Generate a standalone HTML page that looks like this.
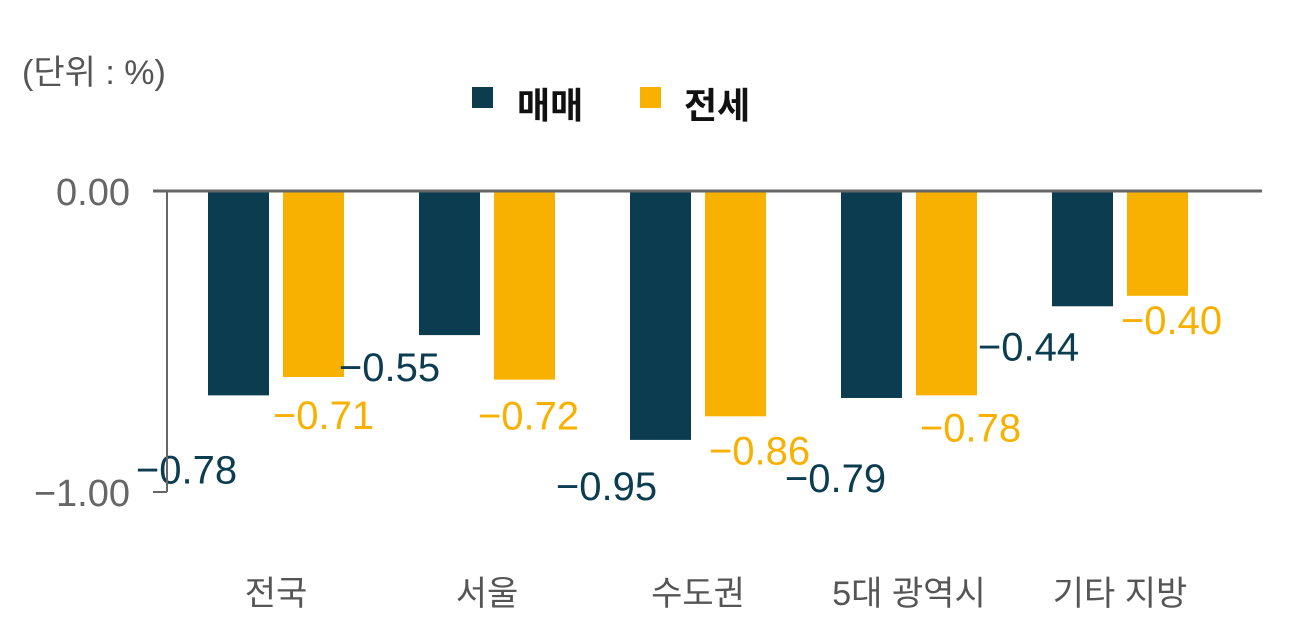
<!DOCTYPE html>
<html><head><meta charset="utf-8">
<style>
body{margin:0;background:#fff;width:1316px;height:637px;overflow:hidden;font-family:"Liberation Sans","Noto Sans CJK KR",sans-serif}
svg text{font-family:"Liberation Sans","Noto Sans CJK KR",sans-serif}
</style></head>
<body>
<svg id="chart" width="1316" height="637" xmlns="http://www.w3.org/2000/svg">
<text x="22" y="84" font-size="34" fill="#555">(단위 : %)</text>
<g>
<rect x="472" y="87" width="21" height="21" fill="#0b3c50"/>
<text x="517" y="118" font-size="36" font-weight="bold" fill="#111">매매</text>
<rect x="640" y="87" width="21" height="21" fill="#f8b100"/>
<text x="684" y="118" font-size="36" font-weight="bold" fill="#111">전세</text>
</g>
<g id="plot"></g>
</svg>
<script>
const categories = ["전국","서울","수도권","5대 광역시","기타 지방"];
const saleValues = [-0.78,-0.55,-0.95,-0.79,-0.44];
const jeonseValues = [-0.71,-0.72,-0.86,-0.78,-0.40];
const tickValues = [0,-1];
const tickLabels = ["0.00","−1.00"];

const NS="http://www.w3.org/2000/svg";
const plot=document.getElementById('plot');
const zeroY=191, barScale=262, tickScale=301;
const yBar=v=>zeroY - v*barScale;
const yTick=v=>zeroY - v*tickScale;
const groupX=i=>276+i*211;
const bw=61, gap=14;
// label offsets (layout only)
const saleLbl=[[-52,88],[-60,46],[-54,60],[-36,94],[-54,54]];
const jeonLbl=[[-30,52],[-36,50],[-16,48],[-16,46],[-26,38]];
function mk(tag,attrs){const e=document.createElementNS(NS,tag);for(const k in attrs)e.setAttribute(k,attrs[k]);plot.appendChild(e);return e;}
function fmt(v){return "−"+Math.abs(v).toFixed(2);}
categories.forEach((c,i)=>{
  const cx=groupX(i);
  const y1=yBar(saleValues[i]);
  const r1=mk('rect',{x:cx-gap/2-bw,y:zeroY,width:bw,height:y1-zeroY,fill:'#0b3c50'});
  
  
  const y2=yBar(jeonseValues[i]);
  const r2=mk('rect',{x:cx+gap/2,y:zeroY,width:bw,height:y2-zeroY,fill:'#f8b100'});
  
  
  const t1=mk('text',{x:cx-gap/2-bw/2+saleLbl[i][0],y:y1+saleLbl[i][1],'font-size':40,fill:'#0b3c50','text-anchor':'middle'});
  t1.textContent=fmt(saleValues[i]);
  
  
  const t2=mk('text',{x:cx+gap/2+bw/2+jeonLbl[i][0]+40,y:y2+jeonLbl[i][1],'font-size':40,fill:'#f8b100','text-anchor':'middle'});
  t2.textContent=fmt(jeonseValues[i]);
  
  
  const t3=mk('text',{x:cx,y:605,'font-size':34,fill:'#555','text-anchor':'middle'});
  t3.textContent=c;
  
  
});
const ax=mk('line',{x1:153,y1:zeroY,x2:1262,y2:zeroY,stroke:'#666','stroke-width':3});


const yax=mk('line',{x1:167,y1:zeroY,x2:167,y2:yTick(-1),stroke:'#666','stroke-width':2});


tickValues.forEach((v,i)=>{
  const tk=mk('line',{x1:153,y1:yTick(v),x2:167,y2:yTick(v),stroke:'#666','stroke-width':2});
  
  
  const tl=mk('text',{x:130,y:yTick(v)+14,'font-size':38,fill:'#666','text-anchor':'end'});
  tl.textContent=tickLabels[i];
  
  
});
</script>
</body></html>
